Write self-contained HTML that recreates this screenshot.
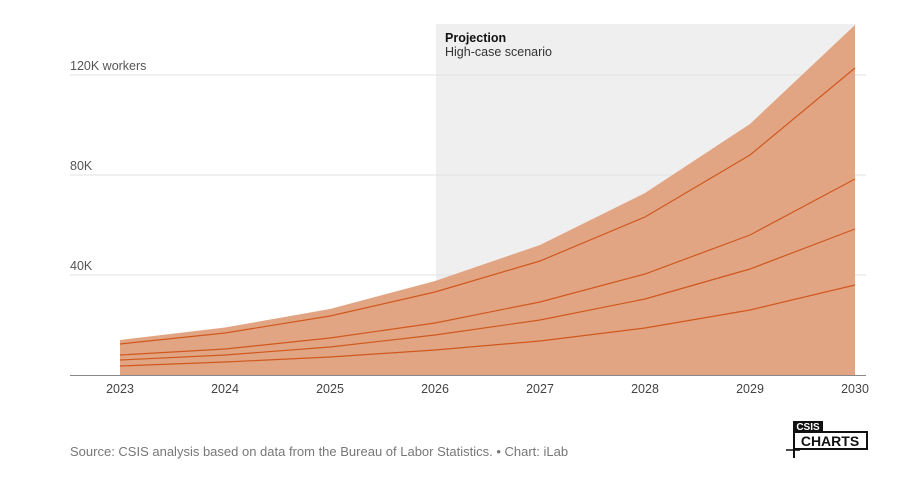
<!DOCTYPE html>
<html><head><meta charset="utf-8"><style>
body{margin:0;background:#fff;font-family:"Liberation Sans",sans-serif;}
svg text{font-family:"Liberation Sans",sans-serif;}
</style></head><body>
<svg id="chart" width="916" height="475" viewBox="0 0 916 475" xmlns="http://www.w3.org/2000/svg">
<rect x="436" y="24" width="419" height="351" fill="#efefef"/>
<g id="grid"></g>
<g id="marks"></g>
<g id="axis"></g>
<text x="445" y="42" font-size="12.5" font-weight="bold" fill="#111">Projection</text>
<text x="445" y="56" font-size="12.5" fill="#333">High-case scenario</text>
<text x="70" y="456" font-size="13" fill="#777">Source: CSIS analysis based on data from the Bureau of Labor Statistics. • Chart: iLab</text>
<g>
<rect x="793" y="421" width="30" height="11" fill="#111"/>
<text x="808" y="430" font-size="10" font-weight="bold" fill="#fff" text-anchor="middle" font-family="Liberation Mono">CSIS</text>
<rect x="794" y="432" width="73" height="17" fill="#fff" stroke="#111" stroke-width="2"/>
<text x="830" y="446" font-size="14" font-weight="bold" fill="#111" text-anchor="middle" font-family="Liberation Mono">CHARTS</text>
<line x1="794" y1="432" x2="794" y2="458" stroke="#111" stroke-width="2"/>
<line x1="786" y1="450" x2="800" y2="450" stroke="#111" stroke-width="1.5"/>
</g>
</svg>
<script>
const years=[2023,2024,2025,2026,2027,2028,2029,2030];
const areaTop=[14,19,26.4,37.6,52,72.8,100.4,140];
const line1=[12.4,16.8,23.6,33.2,45.6,63.2,88,122.8];
const line2=[8,10.4,14.8,20.8,29.2,40.4,56,78.4];
const line3=[6,8,11.2,16,22,30.4,42.4,58.4];
const line4=[3.6,5.2,7.2,10,13.6,18.8,26,36];
const yTicks=[40,80,120];
const yTickLabels=["40K","80K","120K workers"];
const NS="http://www.w3.org/2000/svg";
const x=v=>120+(v-2023)*105;
const y=v=>375-v*2.5;
function mk(tag,attrs,parent){const e=document.createElementNS(NS,tag);for(const k in attrs)e.setAttribute(k,attrs[k]);document.getElementById(parent).appendChild(e);return e;}
yTicks.forEach((t,i)=>{
const g=mk('line',{x1:70,x2:866,y1:y(t),y2:y(t),stroke:'#e2e2e2','stroke-width':1},'grid');


const tx=mk('text',{x:70,y:y(t)-5,'font-size':12.5,fill:'#555'},'grid');
tx.textContent=yTickLabels[i];


});
let d='M'+x(years[0])+','+y(0);
years.forEach((yr,i)=>d+=' L'+x(yr)+','+y(areaTop[i]));
d+=' L'+x(years[years.length-1])+','+y(0)+' Z';
const a=mk('path',{d:d,fill:'#e0a07c','fill-opacity':0.95},'marks');


[line1,line2,line3,line4].forEach((s,j)=>{
const p=mk('polyline',{points:years.map((yr,i)=>x(yr)+','+y(s[i])).join(' '),fill:'none',stroke:'#d0581e','stroke-width':1.2},'marks');


});
const base=mk('line',{x1:70,x2:866,y1:375.5,y2:375.5,stroke:'#888','stroke-width':1},'axis');


years.forEach(yr=>{
const t=mk('text',{x:x(yr),y:393,'font-size':12.5,fill:'#444','text-anchor':'middle'},'axis');
t.textContent=yr;


});
</script>
</body></html>
